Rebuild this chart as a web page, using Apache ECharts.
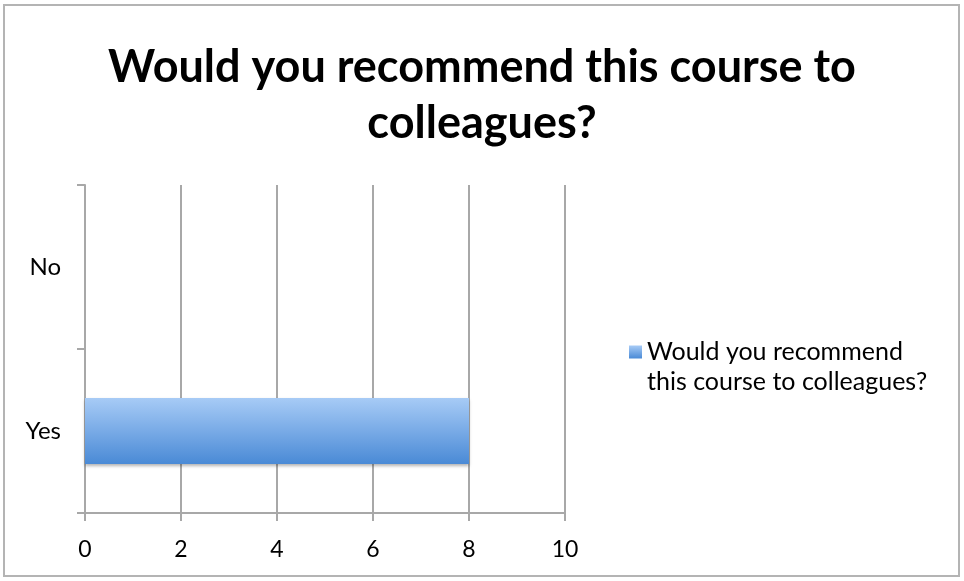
<!DOCTYPE html>
<html>
<head>
<meta charset="utf-8">
<script src="https://cdn.jsdelivr.net/npm/echarts@6/dist/echarts.min.js"></script>
<style>
html,body{margin:0;padding:0;background:#fff;}
#frame{position:absolute;left:3px;top:4px;width:957px;height:573px;border:2px solid #b4b4b4;box-sizing:border-box;}
#chart{position:absolute;left:0;top:0;width:964px;height:581px;}
</style>
</head>
<body>
<div id="frame"></div>
<div id="chart"></div>
<script>
var titleText = 'Would you recommend this course to\ncolleagues?';
var seriesName = 'Would you recommend this course to colleagues?';
var legendLabel = '\nWould you recommend\nthis course to colleagues?';
var categories = ['Yes', 'No'];
var values = [8, 0];
var xMin = 0, xMax = 10, xStep = 2;

var chart = echarts.init(document.getElementById('chart'), null, {renderer: 'canvas'});
var font = 'Lato, "Open Sans", sans-serif';
chart.setOption({
  animation: false,
  backgroundColor: 'transparent',
  title: {
    text: titleText,
    left: 'center',
    top: 34,
    textStyle: {fontFamily: font, fontWeight: 'bold', fontSize: 45, lineHeight: 56, color: '#000'}
  },
  legend: {
    data: [seriesName],
    left: 624,
    top: 302,
    icon: 'rect',
    itemWidth: 13,
    itemHeight: 13,
    itemGap: 0,
    formatter: function () { return legendLabel; },
    textStyle: {fontFamily: font, fontSize: 25, lineHeight: 30, color: '#000'}
  },
  grid: {left: 85, right: 399, top: 185, bottom: 68, containLabel: false},
  xAxis: {
    type: 'value',
    min: xMin, max: xMax, interval: xStep,
    axisLine: {show: true, lineStyle: {color: '#a8a8a8', width: 2}},
    axisTick: {show: true, length: 8, lineStyle: {color: '#a8a8a8', width: 2}},
    splitLine: {show: true, lineStyle: {color: '#a8a8a8', width: 2}},
    axisLabel: {fontFamily: font, fontSize: 23, color: '#000', margin: 25}
  },
  yAxis: {
    type: 'category',
    data: categories,
    axisLine: {show: true, lineStyle: {color: '#a8a8a8', width: 2}},
    axisTick: {show: true, length: 8, alignWithLabel: false, lineStyle: {color: '#a8a8a8', width: 2}},
    splitLine: {show: false},
    axisLabel: {fontFamily: font, fontSize: 24, color: '#000', margin: 24}
  },
  series: [{
    name: seriesName,
    type: 'bar',
    data: values,
    barWidth: 66,
    itemStyle: {
      color: new echarts.graphic.LinearGradient(0, 0, 0, 1, [
        {offset: 0, color: '#a7cbf6'},
        {offset: 1, color: '#4a8ad6'}
      ]),
      shadowBlur: 3,
      shadowOffsetY: 2,
      shadowColor: 'rgba(0,0,0,0.3)'
    }
  }]
});
</script>
</body>
</html>
